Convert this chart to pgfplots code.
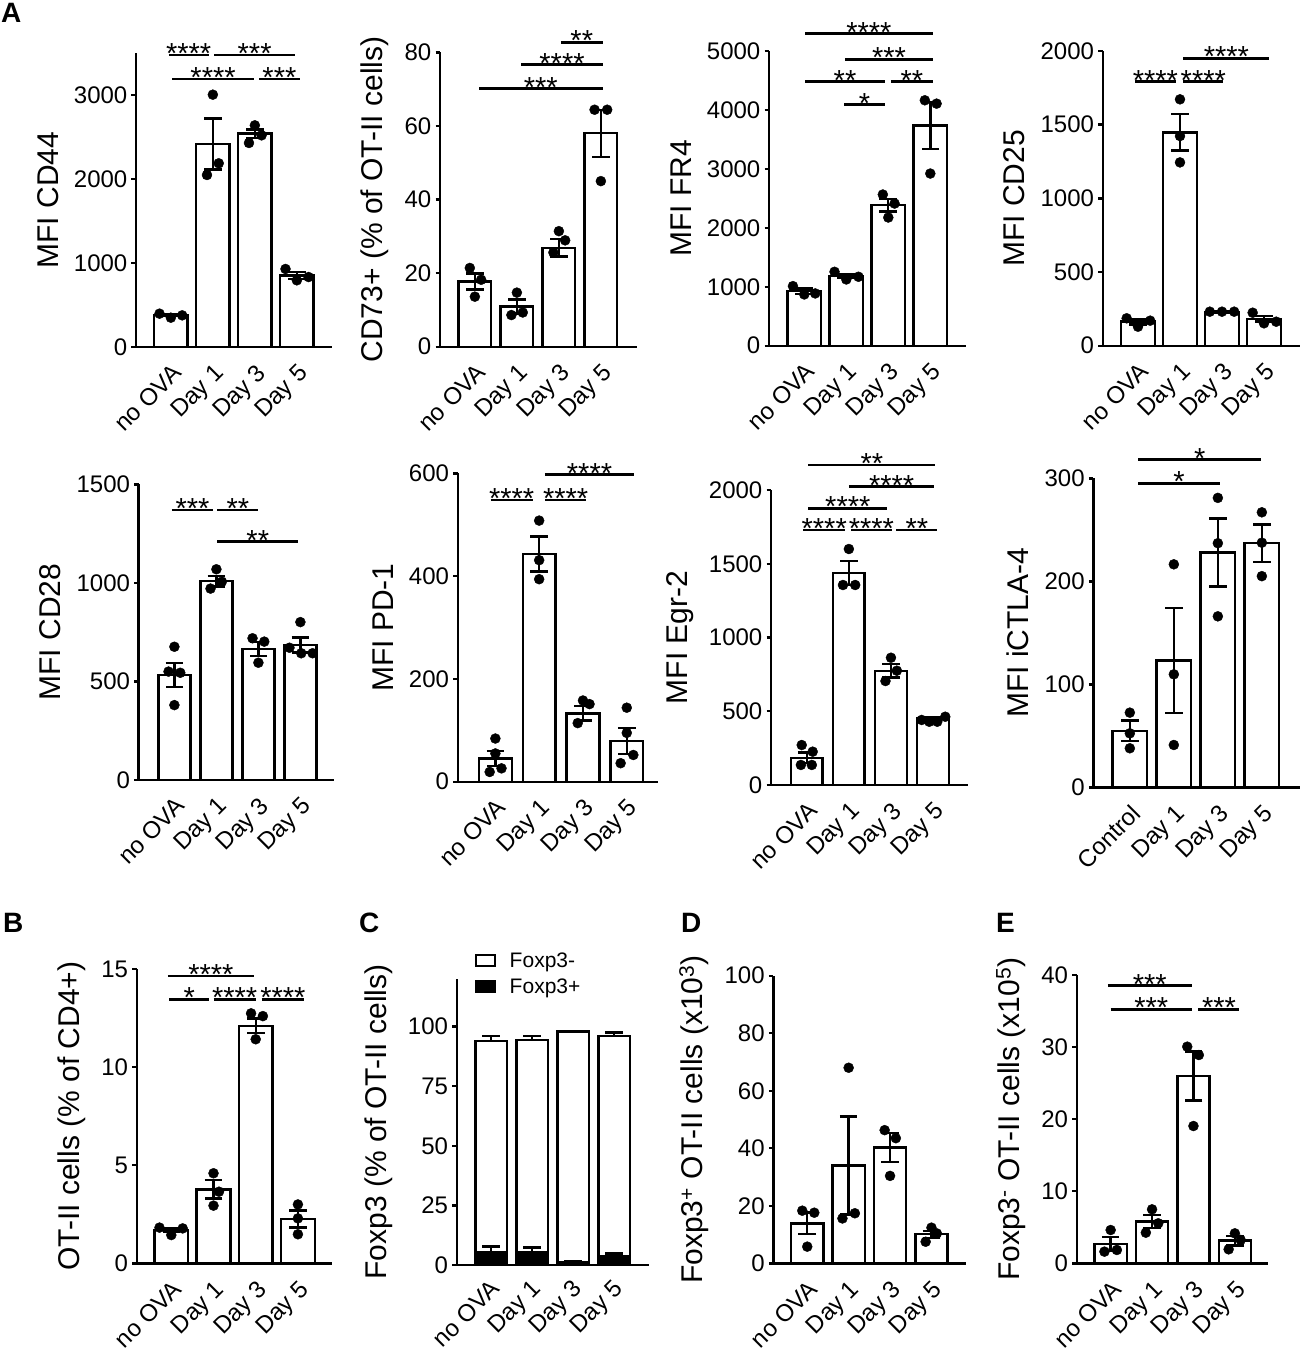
\documentclass[border=0pt]{standalone}
\usepackage{fontspec}
\setmainfont{Liberation Sans}
\usepackage{pgfplots}
\pgfplotsset{compat=1.18}
\newcommand\tickfont{\fontsize{24}{28}\selectfont}
\newcommand\labfont{\fontsize{30}{34}\selectfont}
\newcommand\starfont{\fontsize{29}{29}\selectfont}
\newcommand\letfont{\fontsize{28}{28}\selectfont\bfseries}
\newcommand\xl[1]{{\fontsize{24}{28}\selectfont #1}}
\tikzset{emark/.style={rotate=90, line width=2.4pt, mark size=8.8pt, black}}
\pgfplotsset{
  panel/.style={
    scale only axis, anchor=south west,
    axis lines=left,
    axis line style={-, line width=2.4pt, black},
    ymin=0, clip=false, enlargelimits=false,
    xtick={0,1,2,3},
    xticklabels={\xl{no OVA},\xl{Day 1},\xl{Day 3},\xl{Day 5}},
    x tick style={draw=none},
    y tick style={line width=2.4pt, black},
    tick align=outside, major tick length=4.5pt,
    tick label style={font=\tickfont},
    xticklabel style={font=\tickfont, yshift=-11pt, rotate=45, anchor=north east, inner sep=0pt},
    yticklabel style={font=\tickfont, inner sep=0pt, xshift=-4pt},
    ylabel style={font=\labfont},
    ylabel shift=12pt,
    /pgf/number format/1000 sep={},
    /pgf/number format/assume math mode=true,
  },
  bars/.style={ybar, bar width=#1, fill=white, draw=black, line width=2.4pt,
    error bars/.cd, y dir=both, y explicit,
    error bar style={line width=2.4pt, black},
    error mark options={emark}},
  dots/.style={only marks, mark=*, mark size=5pt, black},
  sig/.style={black, line width=2.8pt},
}
\newcommand{\sig}[4]{\addplot[sig] coordinates {(#1,#3) (#2,#3)} node[pos=0.5, anchor=base, yshift=-8.5pt, inner sep=0pt, font=\starfont] {#4};}
\begin{document}
\begin{tikzpicture}
\path[use as bounding box] (0pt,0pt) rectangle (1302pt,-1353pt);
\node[anchor=north west, inner sep=0pt, font=\letfont] at (1pt,-3pt) {A};
\node[anchor=north west, inner sep=0pt, font=\letfont] at (3pt,-913pt) {B};
\node[anchor=north west, inner sep=0pt, font=\letfont] at (359pt,-913pt) {C};
\node[anchor=north west, inner sep=0pt, font=\letfont] at (681pt,-913pt) {D};
\node[anchor=north west, inner sep=0pt, font=\letfont] at (996pt,-913pt) {E};

% ---------- P1 CD44
\begin{axis}[panel, at={(136pt,-347pt)}, width=195.7pt, height=294pt,
  xmin=-0.83, xmax=3.83, ymax=3500, ytick={0,1000,2000,3000}, ylabel={MFI CD44}]
\addplot[bars=0.80] table[x index=0, y index=1, y error index=2] {
0 381 15
1 2417 303
2 2540 50
3 853 40
};
\addplot[dots] coordinates {(-0.27,397) (0,349) (0.27,377) (1,3004) (1.14,2187) (0.86,2048) (2,2639) (2.16,2520) (1.86,2429) (2.73,929) (3,794) (3.28,833)};
\sig{-0.05}{0.9}{3476}{****}
\sig{1.03}{2.96}{3476}{***}
\sig{0.03}{1.98}{3190}{****}
\sig{2.1}{3.07}{3190}{***}
\end{axis}

% ---------- P2 CD73
\begin{axis}[panel, at={(440pt,-346.7pt)}, width=197pt, height=294.4pt,
  xmin=-0.83, xmax=3.86, ymax=80, ytick={0,20,40,60,80}, ylabel={CD73+ (\% of OT-II cells)}]
\addplot[bars=0.78] table[x index=0, y index=1, y error index=2] {
0 17.7 2.2
1 10.9 1.9
2 26.9 2.4
3 58.0 6.4
};
\addplot[dots] coordinates {(-0.12,21.4) (0.15,18.2) (0,13.6) (1,14.7) (0.87,8.6) (1.14,9.3) (2,31.4) (2.15,28.9) (1.87,25.6) (2.85,64.4) (3.15,64.4) (3,45.0)};
\sig{2.05}{3.04}{82.7}{**}
\sig{1.11}{3.04}{76.6}{****}
\sig{0.1}{3.04}{70.1}{***}
\end{axis}

% ---------- P3 FR4
\begin{axis}[panel, at={(769pt,-345.7pt)}, width=197pt, height=294.7pt,
  xmin=-0.84, xmax=3.85, ymax=5000, ytick={0,1000,2000,3000,4000,5000}, ylabel={MFI FR4}]
\addplot[bars=0.80] table[x index=0, y index=1, y error index=2] {
0 927 45
1 1186 35
2 2384 110
3 3734 400
};
\addplot[dots] coordinates {(-0.27,1011) (0,870) (0.26,887) (0.72,1254) (1,1124) (1.29,1170) (1.87,2565) (2.15,2412) (2,2175) (2.87,4164) (3.15,4107) (3,2921)};
\sig{0.02}{3.06}{5294}{****}
\sig{0.97}{3.06}{4859}{***}
\sig{0.02}{1.92}{4480}{**}
\sig{2.06}{3.06}{4480}{**}
\sig{0.95}{1.92}{4090}{*}
\end{axis}

% ---------- P4 CD25
\begin{axis}[panel, at={(1102.7pt,-345.7pt)}, width=197pt, height=294.7pt,
  xmin=-0.84, xmax=3.85, ymax=2000, ytick={0,500,1000,1500,2000}, ylabel={MFI CD25}]
\addplot[bars=0.80] table[x index=0, y index=1, y error index=2] {
0 163 20
1 1448 123
2 226 5
3 183 19
};
\addplot[dots] coordinates {(-0.27,186) (0,129) (0.29,170) (1,1672) (1,1423) (1,1244) (1.71,231) (2,231) (2.29,231) (2.73,224) (3,152) (3.29,163)};
\sig{1.08}{3.13}{1950}{****}
\sig{-0.07}{0.9}{1792}{****}
\sig{1.08}{2.03}{1792}{****}
\end{axis}

% ---------- P5 CD28
\begin{axis}[panel, at={(138.7pt,-780pt)}, width=195.3pt, height=295.7pt,
  xmin=-0.85, xmax=3.8, ymax=1500, ytick={0,500,1000,1500}, ylabel={MFI CD28}]
\addplot[bars=0.76] table[x index=0, y index=1, y error index=2] {
0 533 61
1 1009 27
2 665 36
3 685 38
};
\addplot[dots] coordinates {(0,676) (-0.14,550) (0.14,544) (0,380) (1,1069) (0.86,971) (1.13,1006) (1.86,719) (2.14,702) (2,595) (3,801) (2.74,671) (3.02,643) (3.29,643)};
\sig{-0.06}{0.92}{1370}{***}
\sig{1.02}{2.0}{1370}{**}
\sig{1.02}{2.95}{1209}{**}
\end{axis}

% ---------- P6 PD-1
\begin{axis}[panel, at={(457.7pt,-781.7pt)}, width=200.6pt, height=308.4pt,
  xmin=-0.86, xmax=3.72, ymax=600, ytick={0,200,400,600}, ylabel={MFI PD-1}]
\addplot[bars=0.75] table[x index=0, y index=1, y error index=2] {
0 45 15
1 443 34
2 133 14
3 79 25
};
\addplot[dots] coordinates {(0,84) (0,55) (-0.13,19) (0.14,26) (1,508) (1,431) (1,394) (2,158) (2.15,151) (1.88,114) (3,144) (3,95) (3.15,52) (2.86,36)};
\sig{1.13}{3.17}{597}{****}
\sig{-0.11}{0.85}{548}{****}
\sig{1.13}{2.08}{548}{****}
\end{axis}

% ---------- P7 Egr-2
\begin{axis}[panel, at={(771pt,-785pt)}, width=197.4pt, height=295pt,
  xmin=-0.85, xmax=3.84, ymax=2000, ytick={0,500,1000,1500,2000}, ylabel={MFI Egr-2}]
\addplot[bars=0.75] table[x index=0, y index=1, y error index=2] {
0 185 35
1 1437 80
2 775 45
3 452 10
};
\addplot[dots] coordinates {(-0.12,271) (0.14,226) (-0.14,136) (0.12,136) (1,1600) (0.86,1356) (1.15,1356) (2,863) (2.14,775) (1.87,705) (2.73,441) (2.91,429) (3.1,429) (3.29,463)};
\sig{0.04}{3.05}{2169}{**}
\sig{1.0}{3.03}{2022}{****}
\sig{0.04}{1.91}{1876}{****}
\sig{-0.08}{0.91}{1729}{****}
\sig{1.05}{2.02}{1729}{****}
\sig{2.13}{3.1}{1729}{**}
\end{axis}

% ---------- P8 iCTLA-4
\begin{axis}[panel, at={(1093.3pt,-787.3pt)}, width=206.4pt, height=309pt,
  xmin=-0.83, xmax=3.86, ymax=300, ytick={0,100,200,300}, ylabel={MFI iCTLA-4},
  xticklabels={\xl{Control},\xl{Day 1},\xl{Day 3},\xl{Day 5}}]
\addplot[bars=0.79] table[x index=0, y index=1, y error index=2] {
0 54.7 10
1 123 51
2 228 33
3 237 18
};
\addplot[dots] coordinates {(0,72.5) (0,52.4) (0,37.9) (1,216.5) (1,109.7) (1,41.1) (2,281) (2,237) (2,166) (3,267) (3,237.5) (3,205)};
\sig{0.19}{2.99}{318}{*}
\sig{0.19}{2.05}{295}{*}
\end{axis}

% ---------- P9 B
\begin{axis}[panel, at={(136.7pt,-1263.3pt)}, width=195.4pt, height=294.3pt,
  xmin=-0.82, xmax=3.81, ymax=15, ytick={0,5,10,15}, ylabel={OT-II cells (\% of CD4+)}]
\addplot[bars=0.80] table[x index=0, y index=1, y error index=2] {
0 1.70 0.1
1 3.77 0.47
2 12.11 0.37
3 2.26 0.43
};
\addplot[dots] coordinates {(-0.28,1.82) (0,1.44) (0.27,1.78) (1,4.59) (1.13,3.65) (1,2.94) (1.89,12.74) (2.17,12.6) (2,11.42) (3,3.0) (3,2.29) (3,1.48)};
\sig{-0.08}{1.96}{14.64}{****}
\sig{-0.05}{0.9}{13.46}{*}
\sig{1.0}{2.0}{13.46}{****}
\sig{2.14}{3.15}{13.46}{****}
\end{axis}

% ---------- P10 C
\begin{axis}[panel, at={(456.7pt,-1265pt)}, width=191.9pt, height=286pt,
  xmin=-0.84, xmax=3.84, ymax=120, ytick={0,25,50,75,100}, ylabel={Foxp3 (\% of OT-II cells)},
  xticklabel style={yshift=3pt},
  legend cell align=left,
  legend style={at={(axis cs:-0.40,132)}, anchor=north west, draw=none, fill=none, inner sep=0pt,
    font=\fontsize{21}{24}\selectfont, row sep=6pt, column sep=12pt},
  legend image code/.code={\draw[#1, line width=1.8pt] (0pt,-5.5pt) rectangle (19pt,5.5pt);}]
\addlegendimage{fill=white, draw=black}
\addlegendentry{Foxp3-}
\addlegendimage{fill=black, draw=black}
\addlegendentry{Foxp3+}
\addplot[forget plot, ybar, bar width=0.77, fill=white, draw=black, line width=2.4pt,
  error bars/.cd, y dir=plus, y explicit, error bar style={line width=2.4pt, black},
  error mark options={emark}]
  table[x index=0, y index=1, y error index=2] {
0 94.0 2.1
1 94.4 1.7
2 97.9 0.3
3 96.1 1.5
};
\addplot[forget plot, ybar, bar width=0.77, fill=black, draw=black, line width=2.4pt,
  error bars/.cd, y dir=plus, y explicit, error bar style={line width=2.4pt, black},
  error mark options={emark}]
  table[x index=0, y index=1, y error index=2] {
0 5.3 2.4
1 5.2 2.1
2 1.1 0.4
3 3.5 1.4
};
\end{axis}

% ---------- P11 D
\begin{axis}[panel, at={(773.3pt,-1263.3pt)}, width=192.5pt, height=287.6pt,
  xmin=-0.82, xmax=3.83, ymax=100, ytick={0,20,40,60,80,100},
  ylabel={Foxp3\textsuperscript{+} OT-II cells (x10\textsuperscript{3})}]
\addplot[bars=0.78] table[x index=0, y index=1, y error index=2] {
0 13.9 3.8
1 34.0 17
2 40.3 5
3 10.1 1.2
};
\addplot[dots] coordinates {(-0.12,18.3) (0.17,17.6) (0,5.8) (0.85,15.6) (1.15,17.4) (1,68.0) (1.87,46.3) (2.14,43.5) (2,30.4) (3,12.4) (3.13,10.4) (2.86,7.5)};
\end{axis}

% ---------- P12 E
\begin{axis}[panel, at={(1076.7pt,-1263.3pt)}, width=191.7pt, height=288.3pt,
  xmin=-0.82, xmax=3.81, ymax=40, ytick={0,10,20,30,40},
  ylabel={Foxp3\textsuperscript{-} OT-II cells (x10\textsuperscript{5})}]
\addplot[bars=0.78] table[x index=0, y index=1, y error index=2] {
0 2.68 0.95
1 5.78 0.92
2 25.99 3.4
3 3.14 0.67
};
\addplot[dots] coordinates {(0,4.62) (-0.15,1.62) (0.15,1.85) (1,7.49) (1.15,5.55) (0.85,4.25) (1.85,30.06) (2.13,28.9) (2,19.05) (3,4.16) (3.14,3.24) (2.85,1.94)};
\sig{-0.07}{1.96}{38.5}{***}
\sig{0.0}{1.96}{35.27}{***}
\sig{2.12}{3.11}{35.27}{***}
\end{axis}
\end{tikzpicture}
\end{document}
